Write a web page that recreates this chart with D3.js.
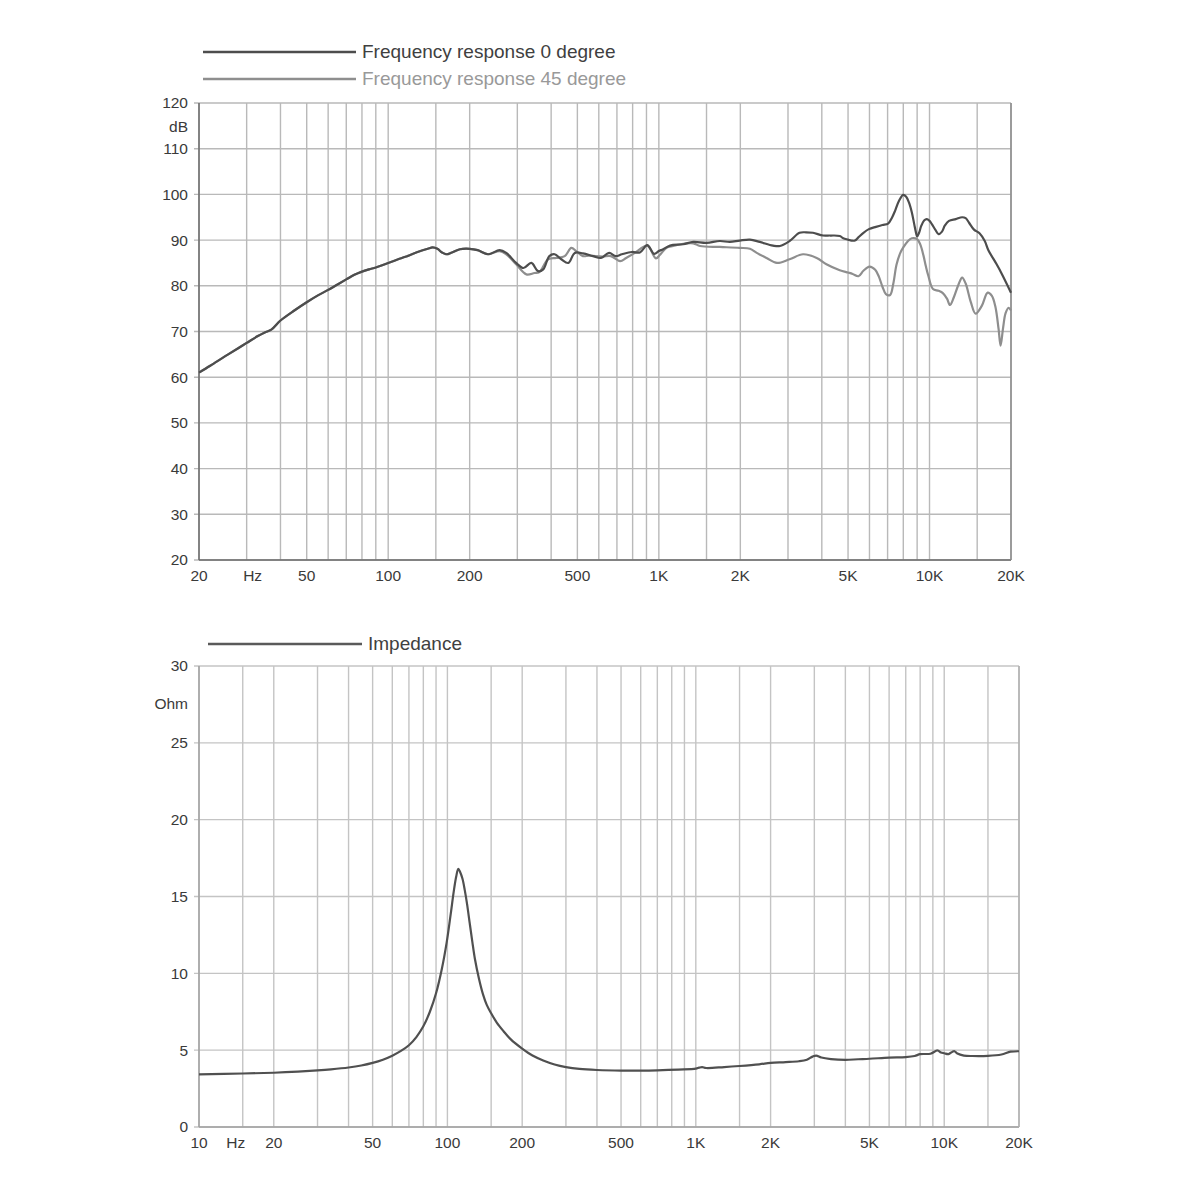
<!DOCTYPE html>
<html><head><meta charset="utf-8">
<script src="https://cdn.jsdelivr.net/npm/d3@7"></script>
<style>
html,body{margin:0;padding:0;background:#fff;}
svg text{font-family:"Liberation Sans",Arial,Helvetica,sans-serif;}
</style>
</head><body>
<svg id="c" width="1200" height="1200"></svg>
<script>
// ---------- DATA ----------
// Frequency response 0 degree (Hz, dB)
const fr0Freq = [20,22,25,28,30,33,35,37,40,45,50,55,60,65,70,75,80,85,90,95,100,110,120,130,140,146,152,158,164,172,184,200,214,234,258,273,297,316,338,358,374,394,412,436,463,489,524,571,611,655,693,730,795,851,906,960,1000,1037,1100,1230,1340,1500,1680,1830,1990,2170,2360,2640,2800,3040,3310,3500,3710,4040,4300,4660,4800,5000,5150,5300,5460,5700,5970,6340,6700,7030,7250,7460,7700,7990,8200,8400,8600,8780,8900,9000,9150,9320,9550,9770,10000,10200,10500,10800,11100,11400,11800,12500,13200,13600,14000,14600,15300,16000,16500,17700,18500,20000];
const fr0dB = [61.0,62.5,64.6,66.4,67.5,69.0,69.8,70.4,72.4,74.6,76.4,77.9,79.1,80.3,81.4,82.4,83.1,83.6,84.0,84.5,85.0,85.9,86.7,87.5,88.1,88.4,88.1,87.3,86.9,87.3,88.0,88.1,87.8,86.9,87.8,87.2,85.0,83.9,85.0,83.2,83.6,86.5,86.9,85.8,85.0,87.2,87.1,86.5,86.1,87.2,86.5,86.9,87.4,87.3,88.9,87.0,87.6,88.0,88.8,89.1,89.6,89.4,89.8,89.6,89.9,90.1,89.6,88.8,88.7,89.8,91.6,91.7,91.6,91.0,91.0,90.9,90.4,90.1,89.9,89.9,90.6,91.6,92.4,92.9,93.3,93.6,94.8,96.4,98.5,99.9,99.5,98.2,96.1,93.5,91.8,90.8,91.6,93.1,94.3,94.6,94.2,93.5,92.3,91.3,91.8,93.2,94.2,94.6,95.0,94.8,93.8,92.3,91.5,89.8,87.8,84.7,82.6,78.5];

// Frequency response 45 degree (Hz, dB)
const fr45Freq = [20,22,25,28,30,33,35,37,40,45,50,55,60,65,70,75,80,85,90,95,100,110,120,130,140,146,152,158,164,172,184,200,214,234,258,273,297,324,347,362,390,418,449,475,495,524,553,619,664,720,757,816,906,975,1010,1067,1130,1200,1340,1420,1680,1990,2170,2300,2500,2730,3040,3410,3830,4160,4660,5000,5200,5460,5700,6000,6300,6500,6700,6900,7150,7350,7550,7800,8000,8300,8600,9000,9250,9500,9700,9900,10300,10800,11200,11600,11900,12300,12800,13200,13600,14200,14800,15600,16400,17000,17500,18000,18300,18700,19100,19600,20000];
const fr45dB = [61.0,62.5,64.6,66.4,67.5,69.0,69.8,70.4,72.4,74.6,76.4,77.9,79.1,80.3,81.4,82.4,83.1,83.6,84.0,84.5,85.0,85.9,86.7,87.5,88.1,88.4,88.1,87.3,86.9,87.3,88.0,88.1,87.8,86.9,87.6,86.9,84.7,82.5,82.8,83.0,85.8,86.1,86.5,88.3,87.6,86.5,86.6,86.4,86.5,85.4,86.1,87.2,88.8,86.0,86.8,88.3,88.7,89.1,89.3,88.7,88.5,88.3,88.1,87.2,86.1,85.0,85.8,86.9,86.1,84.7,83.4,82.9,82.6,82.1,83.3,84.2,83.5,82.0,79.8,78.2,78.0,80.5,84.6,87.2,88.4,89.7,90.4,90.2,89.0,86.6,84.2,82.2,79.3,78.9,78.4,77.2,75.8,77.5,80.3,81.8,80.5,76.5,73.9,75.6,78.5,77.8,75.5,70.5,66.9,70.8,74.0,75.2,74.6];

// Impedance (Hz, Ohm)
const impFreq = [10,15,20,25,30,34,40,45,50,55,60,65,70,75,80,85,90,95,99.3,103,106,108.5,110.6,112.5,115,117.5,120,123,126,129,134,139,144,150,158,168,180,200,220,243,270,300,340,400,500,600,700,850,1000,1030,1060,1100,1300,1500,1800,2000,2300,2600,2800,2950,3050,3200,3500,4000,4500,5000,6000,7000,7600,8000,8800,9400,9700,10000,10400,10800,11000,11300,12000,13000,15000,17000,18500,20000];
const impOhm = [3.43,3.48,3.53,3.6,3.68,3.75,3.87,4.0,4.17,4.38,4.64,4.95,5.32,5.85,6.55,7.5,8.7,10.3,12.0,13.8,15.3,16.3,16.8,16.6,16.15,15.4,14.5,13.25,12.05,10.95,9.65,8.65,7.95,7.4,6.8,6.25,5.7,5.1,4.65,4.33,4.07,3.9,3.78,3.71,3.67,3.67,3.69,3.74,3.8,3.86,3.9,3.84,3.9,3.97,4.08,4.17,4.22,4.28,4.38,4.58,4.65,4.52,4.42,4.37,4.41,4.44,4.52,4.55,4.62,4.74,4.77,4.98,4.85,4.8,4.74,4.9,4.93,4.78,4.65,4.62,4.63,4.72,4.9,4.93];

// Grid / tick values
const topGridFreqs = [20,30,40,50,60,70,80,90,100,150,200,300,400,500,600,700,800,900,1000,1500,2000,3000,4000,5000,6000,7000,8000,9000,10000,15000,20000];
const botGridFreqs = [10,15,20,30,40,50,60,70,80,90,100,150,200,300,400,500,600,700,800,900,1000,1500,2000,3000,4000,5000,6000,7000,8000,9000,10000,15000,20000];
const topXLabelFreqs = [20,30,50,100,200,500,1000,2000,5000,10000,20000];
const topXLabels = ["20","Hz","50","100","200","500","1K","2K","5K","10K","20K"];
const botXLabelFreqs = [10,15,20,50,100,200,500,1000,2000,5000,10000,20000];
const botXLabels = ["10","Hz","20","50","100","200","500","1K","2K","5K","10K","20K"];
const topYTicks = [20,30,40,50,60,70,80,90,100,110,120];
const botYTicks = [0,5,10,15,20,25,30];
const legendTop = ["Frequency response 0 degree","Frequency response 45 degree"];
const legendBot = ["Impedance"];

// ---------- DRAW ----------
const svg = d3.select("#c");
const gridCol = "#b9b9b9", axisCol = "#6a6a6a", txtCol = "#3a3a3a";
const c0 = "#4d4d4d", c45 = "#8e8e8e";

function chart(opt){
  const g = svg.append("g");
  const x = d3.scaleLog().domain(opt.xd).range(opt.xr);
  const y = d3.scaleLinear().domain(opt.yd).range(opt.yr);
  g.selectAll(".hg").data(opt.yTicks).join("line")
    .attr("x1", opt.xr[0]-5).attr("x2", opt.xr[1])
    .attr("y1", d=>y(d)).attr("y2", d=>y(d))
    .attr("stroke", opt.grid).attr("stroke-width", 1.4);
  g.selectAll(".vg").data(opt.gridF).join("line")
    .attr("x1", d=>x(d)).attr("x2", d=>x(d))
    .attr("y1", opt.yr[1]).attr("y2", opt.yr[0])
    .attr("stroke", opt.grid).attr("stroke-width", 1.4);
  g.append("line").attr("x1", opt.xr[0]).attr("x2", opt.xr[0]).attr("y1", opt.yr[1]).attr("y2", opt.yr[0])
    .attr("stroke", opt.axis).attr("stroke-width", 1.5);
  g.append("line").attr("x1", opt.xr[0]).attr("x2", opt.xr[1]).attr("y1", opt.yr[0]).attr("y2", opt.yr[0])
    .attr("stroke", opt.axis).attr("stroke-width", 1.5);
  g.append("line").attr("x1", opt.xr[1]).attr("x2", opt.xr[1]).attr("y1", opt.yr[1]).attr("y2", opt.yr[0])
    .attr("stroke", opt.axisR).attr("stroke-width", 1.5);
  g.selectAll(".yl").data(opt.yTicks).join("text")
    .attr("x", opt.xr[0]-11).attr("y", d=>y(d)).attr("dy","0.35em")
    .attr("text-anchor","end").attr("font-size",15.5).attr("fill",txtCol).text(d=>d);
  g.append("text").attr("x", opt.xr[0]-11).attr("y", opt.unitY).attr("dy","0.35em")
    .attr("text-anchor","end").attr("font-size",15.5).attr("fill",txtCol).text(opt.unit);
  g.selectAll(".xl").data(opt.xlf).join("text")
    .attr("x", (d,i)=>x(d) + (opt.xl[i]==="Hz" ? opt.hzDx : 0)).attr("y", opt.yr[0]+16).attr("dy","0.35em")
    .attr("text-anchor","middle").attr("font-size",15.5).attr("fill",txtCol).text((d,i)=>opt.xl[i]);
  const line = d3.line().x(d=>x(d[0])).y(d=>y(d[1])).curve(d3.curveCatmullRom.alpha(0.5));
  opt.series.forEach(s=>{
    g.append("path").datum(d3.zip(s.f, s.v)).attr("d", line)
      .attr("fill","none").attr("stroke", s.col).attr("stroke-width", 2.2)
      .attr("stroke-linejoin","round");
  });
  opt.legend.forEach((l,i)=>{
    g.append("line").attr("x1", l.x1).attr("x2", l.x2).attr("y1", l.y).attr("y2", l.y)
      .attr("stroke", l.col).attr("stroke-width", 2.6);
    g.append("text").attr("x", l.x2+6).attr("y", l.y).attr("dy","0.33em")
      .attr("font-size", 19).attr("fill", l.tcol).text(l.text);
  });
}

chart({
  xd:[20,20000], xr:[199,1011], yd:[20,120], yr:[560,103],
  gridF: topGridFreqs, yTicks: topYTicks, grid: gridCol, axis: axisCol, axisR: "#8a8a8a",
  unit:"dB", unitY:127, xlf: topXLabelFreqs, xl: topXLabels, hzDx: 6,
  series:[{f:fr45Freq, v:fr45dB, col:c45},{f:fr0Freq, v:fr0dB, col:c0}],
  legend:[{x1:203,x2:356,y:52,col:c0,tcol:"#404040",text:legendTop[0]},
          {x1:203,x2:356,y:79,col:c45,tcol:"#999999",text:legendTop[1]}]
});

chart({
  xd:[10,20000], xr:[199,1019], yd:[0,30], yr:[1127,666],
  gridF: botGridFreqs, yTicks: botYTicks, grid: "#c4c4c4", axis: "#a0a0a0", axisR: "#b0b0b0",
  unit:"Ohm", unitY:704, xlf: botXLabelFreqs, xl: botXLabels, hzDx: -7,
  series:[{f:impFreq, v:impOhm, col:"#505050"}],
  legend:[{x1:208,x2:362,y:644,col:"#5a5a5a",tcol:"#404040",text:legendBot[0]}]
});
</script>
</body></html>
